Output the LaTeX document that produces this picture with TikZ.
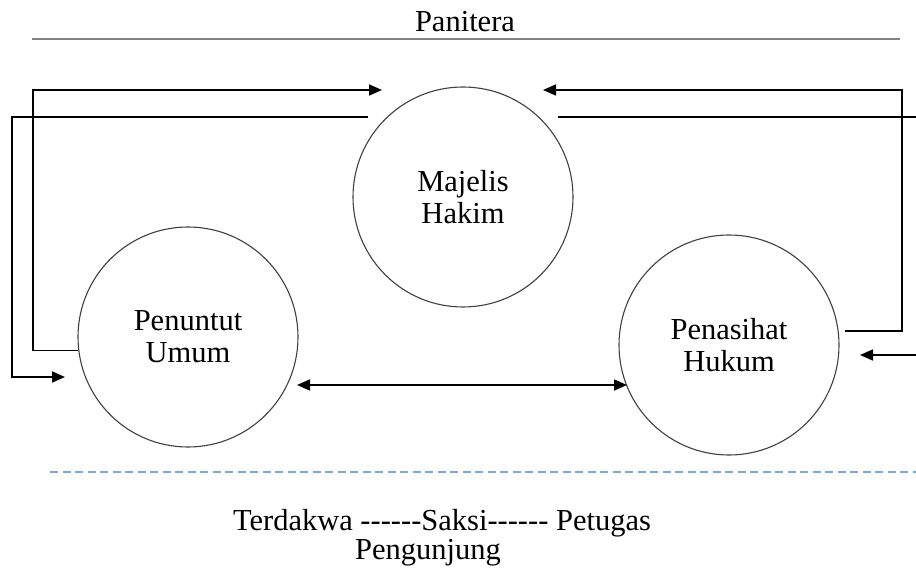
\documentclass[tikz,border=0pt]{standalone}
\usepackage{fontspec}
\setmainfont{Liberation Serif}
\usetikzlibrary{arrows.meta}
\newcommand\enamstrip{\mbox{-}\mbox{-}\mbox{-}\mbox{-}\mbox{-}\mbox{-}}
\definecolor{birumuda}{RGB}{120,170,222}
\tikzset{
  lingkaran/.style={draw=black!75, circle, line width=1.1pt, minimum size=220pt,
    inner sep=0pt, align=center, font=\fontsize{30.5}{32}\selectfont},
  teks/.style={font=\fontsize{30.5}{32}\selectfont, inner sep=0pt},
  garis/.style={line width=1.6pt},
  alur/.style={garis, -{Triangle[length=13pt,width=11pt]}},
  alurdua/.style={garis, {Triangle[length=13pt,width=11pt]}-{Triangle[length=13pt,width=11pt]}}
}
\begin{document}
\begin{tikzpicture}[x=1pt,y=-1pt]
  \useasboundingbox (0,0) rectangle (916,569);
  % panitera
  \node[teks] (panitera) at (465,22) {Panitera};
  \coordinate (gl) at (32,39);
  \coordinate (gr) at (900,39);
  \draw[gray, line width=2.2pt] (gl) -- (gr);
  % lingkaran
  \node[lingkaran] (mh) at (463,197) {Majelis\\Hakim};
  \node[lingkaran] (pu) at (188,337) {Penuntut\\Umum};
  \node[lingkaran] (ph) at (729,345) {Penasihat\\Hukum};
  % alur kiri
  \coordinate (a2) at (33,90);
  \coordinate (a3) at (382,90);
  \draw[alur] (pu.187) -| (a2) -- (a3);
  \coordinate (b1) at (368,117);
  \coordinate (b2) at (12,117);
  \coordinate (b3) at (65,377);
  \draw[alur] (b1) -- (b2) |- (b3);
  % alur kanan
  \coordinate (c1) at (845,331);
  \coordinate (c2) at (902,90);
  \coordinate (c3) at (543,90);
  \draw[alur] (c1) -| (c2) -- (c3);
  \coordinate (d1) at (558,117);
  \coordinate (d2) at (916,117);
  \draw[garis] (d1) -- (d2);
  \coordinate (d3) at (916,355);
  \coordinate (d4) at (860,355);
  \draw[alur] (d3) -- (d4);
  % antar pihak
  \coordinate (e1) at (297,385);
  \coordinate (e2) at (627,385);
  \draw[alurdua] (e1) -- (e2);
  % batas
  \coordinate (f1) at (50,472);
  \coordinate (f2) at (916,472);
  \draw[birumuda, line width=1.6pt, dash pattern=on 8pt off 4.5pt] (f1) -- (f2);
  \node[teks] (pihak) at (442,523) {Terdakwa \enamstrip Saksi\enamstrip{} Petugas};
  \node[teks] (pengunjung) at (428,553) {Pengunjung};
\end{tikzpicture}
\end{document}
